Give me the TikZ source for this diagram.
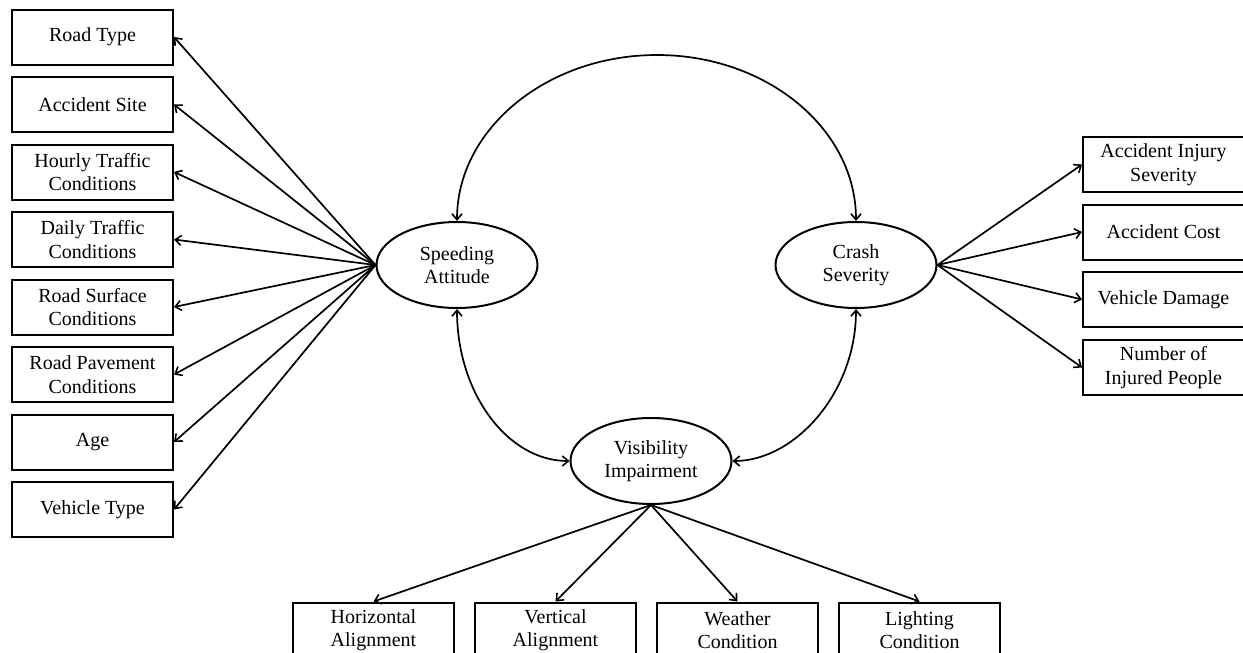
\documentclass[tikz,border=0pt]{standalone}
\usepackage{fontspec}
\setmainfont{Liberation Serif}
\usetikzlibrary{arrows.meta,shapes.geometric}

\tikzset{
  every node/.style={font=\fontsize{20}{23.5}\selectfont},
  obs/.style={draw, line width=2pt, rectangle, minimum width=161pt,
    minimum height=55pt, inner sep=0pt, align=center},
  latent/.style={draw, line width=2pt, ellipse, minimum width=161pt,
    minimum height=86pt, inner sep=0pt, align=center},
  barb/.tip={Straight Barb[length=6pt,width=10pt,line width=1.6pt]},
  conn/.style={line width=1.7pt, -barb},
  cov/.style={line width=1.7pt, barb-barb},
}

\begin{document}
\begin{tikzpicture}[x=1pt,y=-1pt]
  \clip (0,0) rectangle (1243,653);
  \fill[white] (0,0) rectangle (1243,653);

  % latent variables
  \node[latent] (sp) at (457,265) {Speeding\\Attitude};
  \node[latent] (cs) at (856,265) {Crash\\Severity};
  \node[latent] (vi) at (651,461) {Visibility\\Impairment};

  % indicators of speeding attitude
  \node[obs] (l1) at (92.5,37)   {Road Type};
  \node[obs] (l2) at (92.5,104.5) {Accident Site};
  \node[obs] (l3) at (92.5,172)  {Hourly Traffic\\Conditions};
  \node[obs] (l4) at (92.5,239.5) {Daily Traffic\\Conditions};
  \node[obs] (l5) at (92.5,307)  {Road Surface\\Conditions};
  \node[obs] (l6) at (92.5,374.5) {Road Pavement\\Conditions};
  \node[obs] (l7) at (92.5,442)  {Age};
  \node[obs] (l8) at (92.5,509.5) {Vehicle Type};

  % indicators of crash severity
  \node[obs] (r1) at (1163.5,164.5) {Accident Injury\\Severity};
  \node[obs] (r2) at (1163.5,232)   {Accident Cost};
  \node[obs] (r3) at (1163.5,299.5) {Vehicle Damage};
  \node[obs] (r4) at (1163.5,367.5) {Number of\\Injured People};

  % indicators of visibility impairment
  \node[obs] (b1) at (373.5,630) {Horizontal\\Alignment};
  \node[obs] (b2) at (555.5,630) {Vertical\\Alignment};
  \node[obs] (b3) at (737.5,630) {Weather\\Condition};
  \node[obs] (b4) at (919.5,630) {Lighting\\Condition};

  % loadings
  \foreach \n in {l1,l2,l3,l4,l5,l6,l7,l8}
    \draw[conn] (sp.west) -- (\n.east);
  \foreach \n in {r1,r2,r3,r4}
    \draw[conn] (cs.east) -- (\n.west);
  \foreach \n in {b1,b2,b3,b4}
    \draw[conn] (vi.south) -- (\n.north);

  % covariances
  \coordinate (apex) at (657,55);
  \draw[cov] (sp.north) .. controls +(0,-92) and +(-110,0) .. (apex)
                        .. controls +(110,0) and +(0,-92) .. (cs.north);
  \draw[cov] (sp.south) .. controls +(0,84) and +(-62,0) .. (vi.west);
  \draw[cov] (cs.south) .. controls +(0,84) and +(62,0) .. (vi.east);
\end{tikzpicture}
\end{document}
